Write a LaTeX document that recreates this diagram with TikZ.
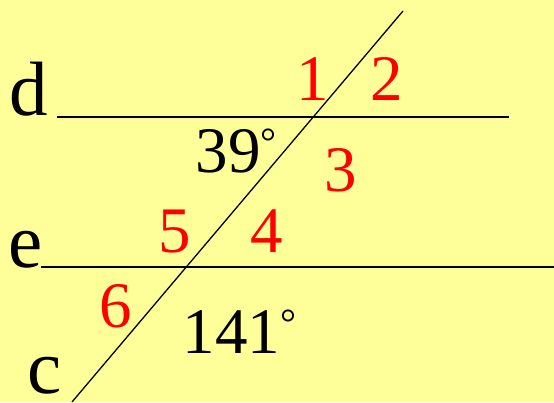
\documentclass[tikz,border=0pt]{standalone}
\usepackage{fontspec}
\setmainfont{Liberation Serif}
\usepackage{tikz}
\definecolor{paleyellow}{RGB}{255,255,153}
\definecolor{markred}{RGB}{255,0,0}
\newcommand{\degsign}{\raisebox{17pt}{\fontsize{40}{40}\selectfont °}}

\begin{document}
\begin{tikzpicture}[
  x=1pt,y=-1pt,
  line/.style={draw=black,line width=1.3pt},
  letterlab/.style={inner sep=0pt,anchor=base,text depth=0pt,font=\fontsize{77}{80}\selectfont},
  ang/.style={inner sep=0pt,anchor=base,text=markred,font=\fontsize{65}{70}\selectfont},
  deg/.style={inner sep=0pt,anchor=base,text=black,font=\fontsize{65}{70}\selectfont}
]
\fill[paleyellow] (0,0) rectangle (554,402);
\useasboundingbox (0,0) rectangle (554,402);
\coordinate (d1) at (57,117);
\coordinate (d2) at (509,117);
\coordinate (e1) at (41,267);
\coordinate (e2) at (554,267);
\coordinate (c1) at (403,11);
\coordinate (c2) at (72,402);
\draw[line] (d1)--(d2);
\draw[line] (e1)--(e2);
\draw[line] (c1)--(c2);
\node[letterlab] (dlab) at (28.5,115) {d};
\node[letterlab] (elab) at (26,267) {e};
\node[letterlab] (clab) at (44.5,393) {c};
\node[ang] (a1) at (313,100) {1};
\node[ang] (a2) at (387,100) {2};
\node[ang] (a3) at (341,191) {3};
\node[ang] (a4) at (266.5,252) {4};
\node[ang] (a5) at (175,252) {5};
\node[ang] (a6) at (115.5,327) {6};
\node[deg] (d39) at (236,172) {39\degsign};
\node[deg] (d141) at (239.5,353) {141\degsign};
\end{tikzpicture}
\end{document}
